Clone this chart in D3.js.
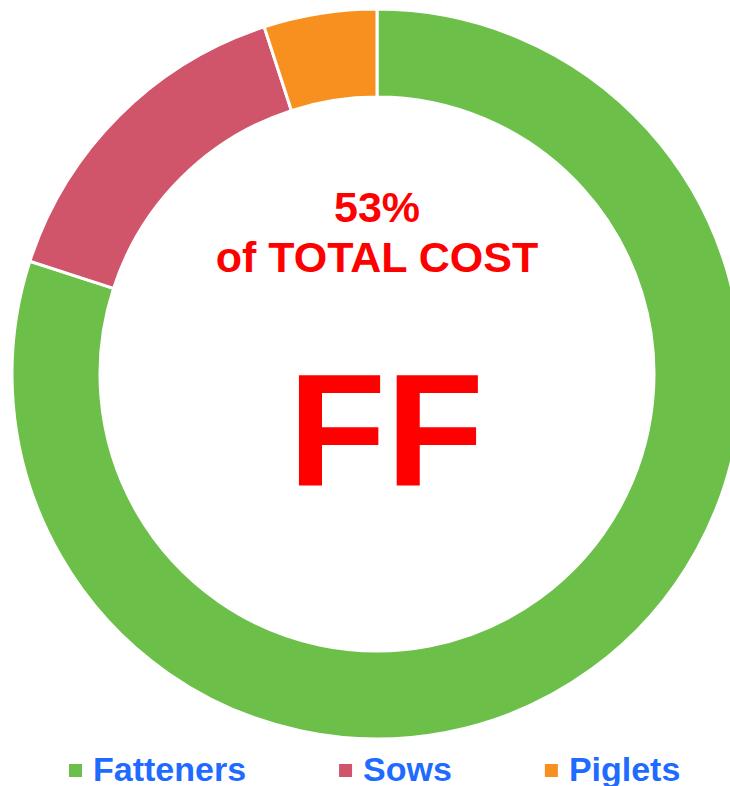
<!DOCTYPE html>
<html>
<head>
<meta charset="utf-8">
<script src="https://cdn.jsdelivr.net/npm/d3@7"></script>
<style>
  body { margin: 0; background: #fff; }
  svg { display: block; }
</style>
</head>
<body>
<svg id="chart" width="730" height="786"></svg>
<script>
const categories = ["Fatteners", "Sows", "Piglets"]
const shares = [80, 15, 5]
const colors = ["#6cc04a", "#d0546a", "#f7901e"]
const centerLines = ["53%", "of TOTAL COST"]
const bigLabel = "FF"

const svg = d3.select("#chart")
const cx = 377, cy = 374
const outerR = 365, innerR = 277
const police = "'Liberation Sans', Arial, sans-serif"

const data = categories.map((c, i) => ({name: c, value: shares[i], fill: colors[i]}))

const pie = d3.pie().value(d => d.value).sort(null)
const arc = d3.arc().innerRadius(innerR).outerRadius(outerR)

const g = svg.append("g").attr("transform", `translate(${cx},${cy})`)

g.selectAll("path")
  .data(pie(data))
  .join("path")
  .attr("d", arc)
  .attr("fill", d => d.data.fill)
  .attr("stroke", "#fff")
  .attr("stroke-width", 3)

// texte central
g.selectAll("text.sub")
  .data(centerLines)
  .join("text")
  .attr("class", "sub")
  .attr("x", 0)
  .attr("y", (d, i) => -152 + i * 50)
  .attr("text-anchor", "middle")
  .style("font", `bold 43px ${police}`)
  .attr("fill", "#ff0000")
  .text(d => d)

g.append("text")
  .attr("x", 9)
  .attr("y", 111)
  .attr("text-anchor", "middle")
  .style("font", `bold 160px ${police}`)
  .attr("fill", "#ff0000")
  .text(bigLabel)

// légende : placement à la suite, selon la largeur des textes
const leg = svg.selectAll("g.legend")
  .data(data)
  .join("g")
  .attr("class", "legend")

leg.append("rect")
  .attr("x", 0)
  .attr("y", 764)
  .attr("width", 13)
  .attr("height", 13)
  .attr("fill", d => d.fill)

leg.append("text")
  .attr("x", 24)
  .attr("y", 781)
  .style("font", `bold 34px ${police}`)
  .attr("fill", "#1f6bff")
  .text(d => d.name)

let posX = 69
leg.each(function() {
  const item = d3.select(this)
  item.attr("transform", `translate(${posX},0)`)
  posX += 24 + item.select("text").node().getComputedTextLength() + 93
})
</script>
</body>
</html>
